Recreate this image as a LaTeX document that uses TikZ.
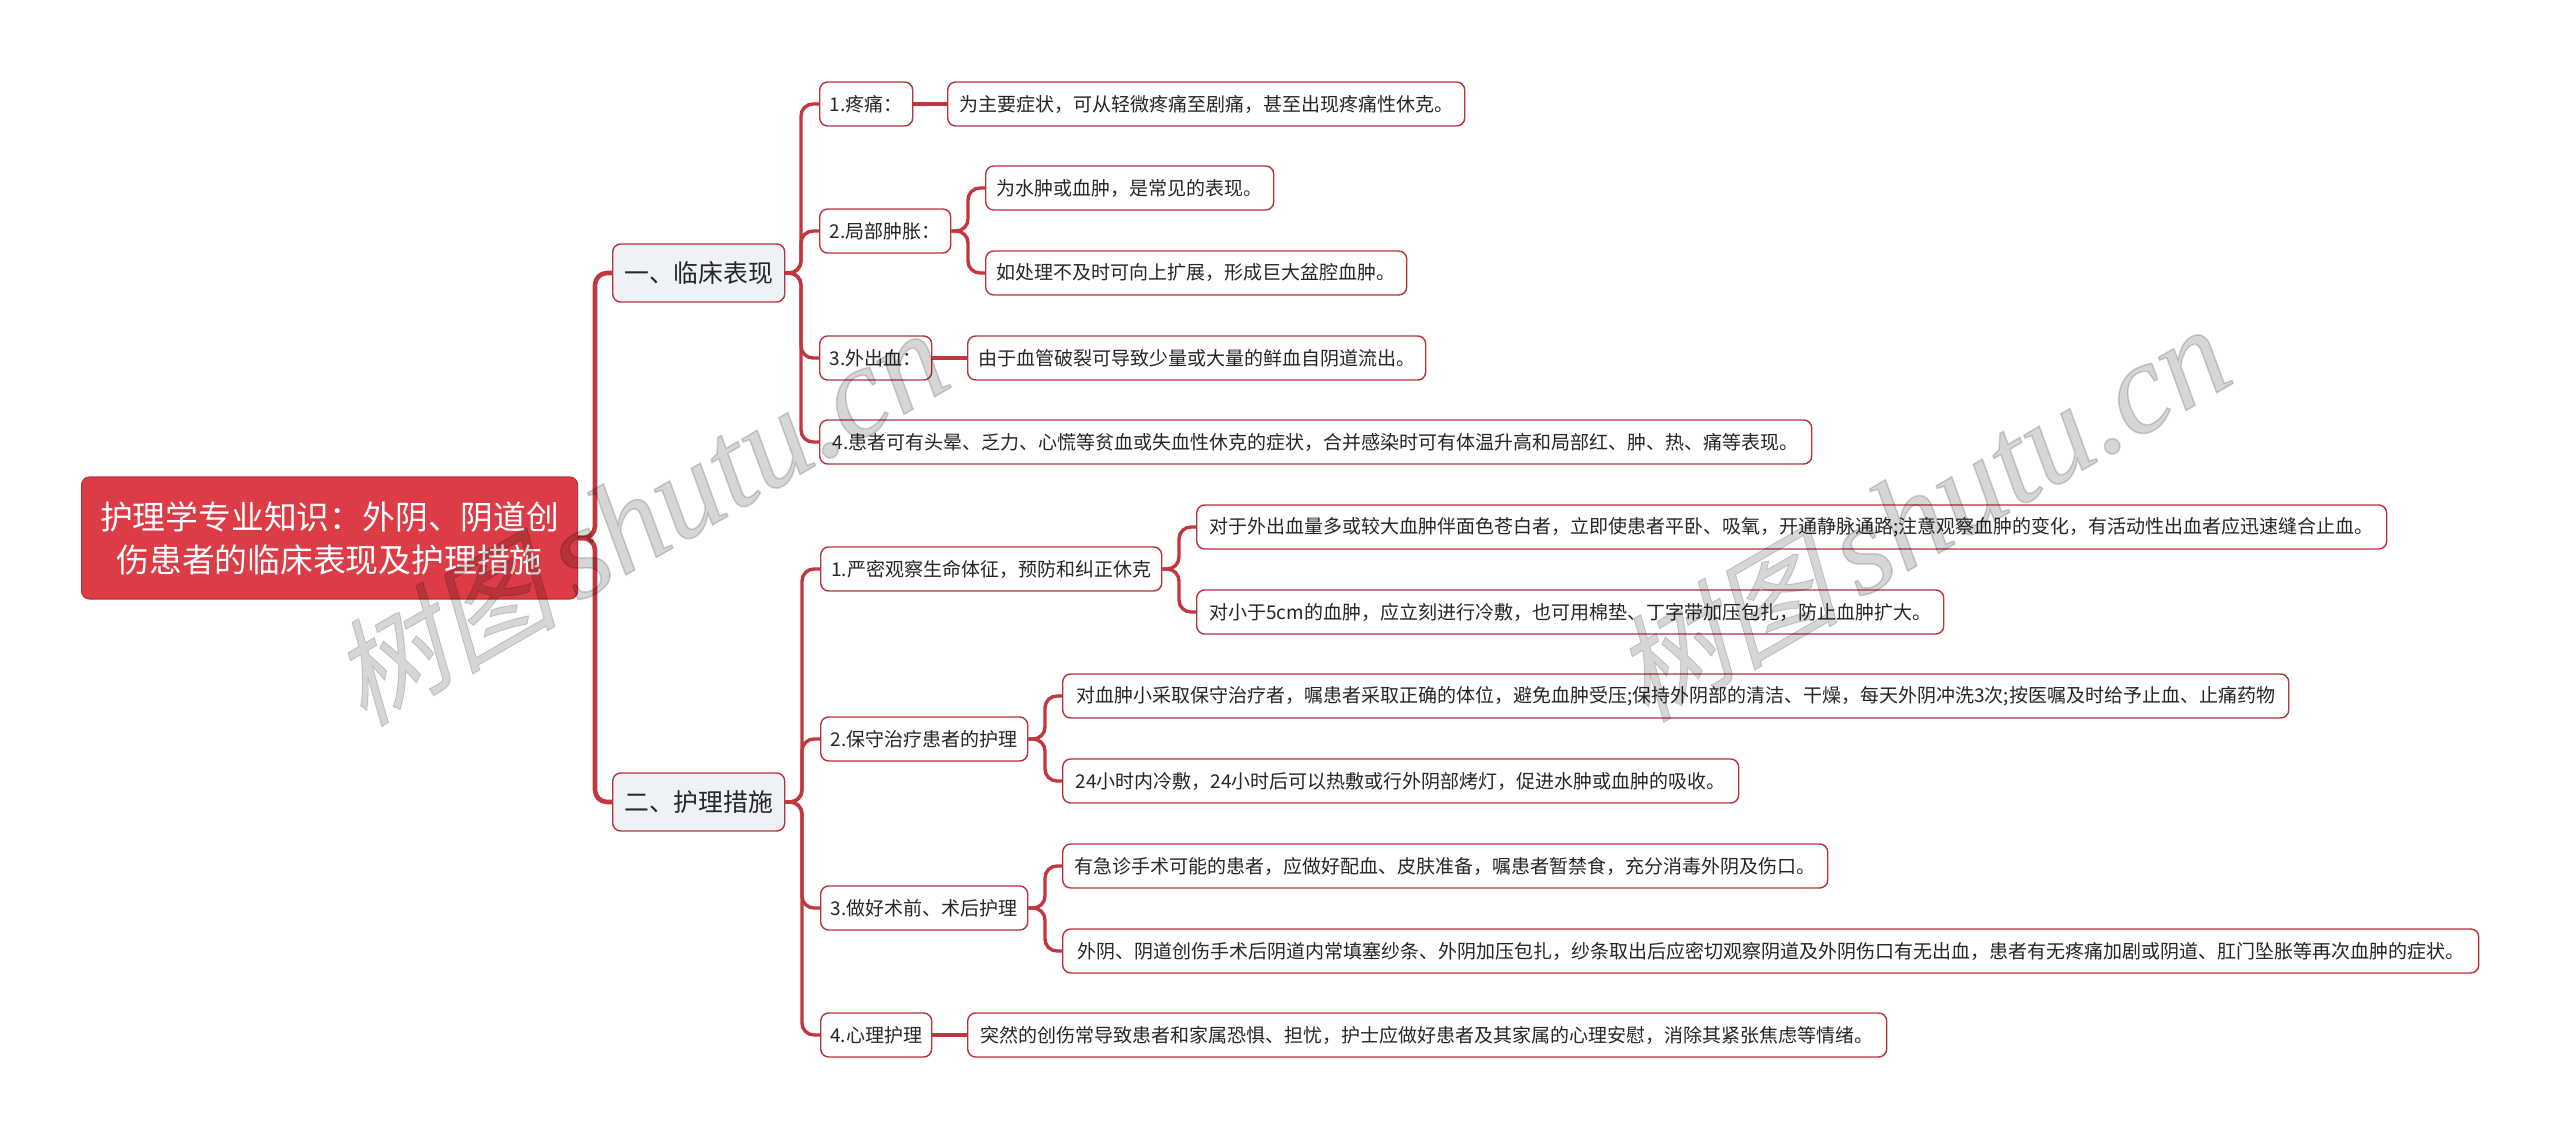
\documentclass[tikz,border=0pt]{standalone}
\usepackage{fontspec}
\setmainfont{Noto Sans CJK SC}
\newfontfamily\markcjk[FakeSlant=0.25,FakeBold=0.8]{Noto Sans CJK SC}
\newfontfamily\marklatin[ItalicFeatures={FakeBold=1.2}]{Liberation Serif}
\definecolor{rootred}{HTML}{DC3C46}
\definecolor{linered}{HTML}{B8323C}
\definecolor{linkred}{HTML}{C2363F}
\definecolor{sidegray}{HTML}{EEF1F5}
\definecolor{inktext}{HTML}{262626}
\usetikzlibrary{positioning}

\begin{document}
\begin{tikzpicture}[
        x=0.5pt, y=-0.5pt,
        root/.style={rectangle, rounded corners=4pt, fill=rootred, draw=linered, line width=0.6pt, text=white, font=\fontsize{16.4pt}{21.5pt}\selectfont, align=center, inner sep=0pt, anchor=west},
        topic/.style={rectangle, rounded corners=4pt, fill=sidegray, draw=linered, line width=0.7pt, text=inktext, font=\fontsize{12.4pt}{15pt}\selectfont, inner sep=0pt, anchor=west, minimum height=29pt},
        leaf/.style={rectangle, rounded corners=4pt, fill=white, draw=linered, line width=0.7pt, text=inktext, font=\fontsize{9.5pt}{12pt}\selectfont, inner sep=0pt, anchor=west, minimum height=22pt},
        trunk/.style={draw=linkred, line width=2.3pt, rounded corners=6pt},
        link/.style={draw=linkred, line width=1.7pt, rounded corners=6pt},
        wmark/.style={text=black, text opacity=0.16, rotate=30, inner sep=0pt}
    ]
        \useasboundingbox (0,0) rectangle (2560,1139);

        \node[root, minimum width=248pt, minimum height=61pt] (root) at (81,538) {护理学专业知识：外阴、阴道创\\伤患者的临床表现及护理措施};
        \node[topic, minimum width=86pt] (lin) at (612,273) {一、临床表现};
        \node[topic, minimum width=86pt] (hu) at (612,802) {二、护理措施};

        % first branch
        \node[leaf, minimum width=46.5pt] (lin1) at (819,104) {1.疼痛：};
        \node[leaf, minimum width=258.5pt] (lin1a) at (947,104) {为主要症状，可从轻微疼痛至剧痛，甚至出现疼痛性休克。};
        \node[leaf, minimum width=65.5pt] (lin2) at (819,231) {2.局部肿胀：};
        \node[leaf, minimum width=144pt] (lin2a) at (985,188) {为水肿或血肿，是常见的表现。};
        \node[leaf, minimum width=210.5pt] (lin2b) at (985,273) {如处理不及时可向上扩展，形成巨大盆腔血肿。};
        \node[leaf, minimum width=56pt] (lin3) at (819,358) {3.外出血：};
        \node[leaf, minimum width=229pt] (lin3a) at (967,358) {由于血管破裂可导致少量或大量的鲜血自阴道流出。};
        \node[leaf, minimum width=496pt] (lin4) at (819,442) {4.患者可有头晕、乏力、心慌等贫血或失血性休克的症状，合并感染时可有体温升高和局部红、肿、热、痛等表现。};

        % second branch
        \node[leaf, minimum width=170.5pt] (hu1) at (820,569) {1.严密观察生命体征，预防和纠正休克};
        \node[leaf, minimum width=595pt] (hu1a) at (1196,527) {对于外出血量多或较大血肿伴面色苍白者，立即使患者平卧、吸氧，开通静脉通路;注意观察血肿的变化，有活动性出血者应迅速缝合止血。};
        \node[leaf, minimum width=373.5pt] (hu1b) at (1196,612) {对小于5cm的血肿，应立刻进行冷敷，也可用棉垫、丁字带加压包扎，防止血肿扩大。};
        \node[leaf, minimum width=103.5pt] (hu2) at (820,739) {2.保守治疗患者的护理};
        \node[leaf, minimum width=613pt] (hu2a) at (1062,696) {对血肿小采取保守治疗者，嘱患者采取正确的体位，避免血肿受压;保持外阴部的清洁、干燥，每天外阴冲洗3次;按医嘱及时给予止血、止痛药物};
        \node[leaf, minimum width=338pt] (hu2b) at (1062,781) {24小时内冷敷，24小时后可以热敷或行外阴部烤灯，促进水肿或血肿的吸收。};
        \node[leaf, minimum width=103.5pt] (hu3) at (820,908) {3.做好术前、术后护理};
        \node[leaf, minimum width=382.5pt] (hu3a) at (1062,866) {有急诊手术可能的患者，应做好配血、皮肤准备，嘱患者暂禁食，充分消毒外阴及伤口。};
        \node[leaf, minimum width=708pt] (hu3b) at (1062,951) {外阴、阴道创伤手术后阴道内常填塞纱条、外阴加压包扎，纱条取出后应密切观察阴道及外阴伤口有无出血，患者有无疼痛加剧或阴道、肛门坠胀等再次血肿的症状。};
        \node[leaf, minimum width=55.5pt] (hu4) at (820,1035) {4.心理护理};
        \node[leaf, minimum width=459.5pt] (hu4a) at (967,1035) {突然的创伤常导致患者和家属恐惧、担忧，护士应做好患者及其家属的心理安慰，消除其紧张焦虑等情绪。};

        % junctions
        \coordinate (jroot) at (595,538);
        \coordinate (jlin) at (801,273);
        \coordinate (jhu) at (802,802);
        \coordinate (jlin2) at (968,231);
        \coordinate (jhu1) at (1179,569);
        \coordinate (jhu2) at (1045,739);
        \coordinate (jhu3) at (1045,908);

        \draw[trunk] (root.east) -- (jroot) |- (lin.west);
        \draw[trunk] (root.east) -- (jroot) |- (hu.west);
        \foreach \kid in {lin1, lin2, lin3, lin4}
            \draw[link] (lin.east) -- (jlin) |- (\kid.west);
        \foreach \kid in {hu1, hu2, hu3, hu4}
            \draw[link] (hu.east) -- (jhu) |- (\kid.west);
        \foreach \kid in {lin2a, lin2b}
            \draw[link] (lin2.east) -- (jlin2) |- (\kid.west);
        \foreach \kid in {hu1a, hu1b}
            \draw[link] (hu1.east) -- (jhu1) |- (\kid.west);
        \foreach \kid in {hu2a, hu2b}
            \draw[link] (hu2.east) -- (jhu2) |- (\kid.west);
        \foreach \kid in {hu3a, hu3b}
            \draw[link] (hu3.east) -- (jhu3) |- (\kid.west);
        \draw[link] (lin1.east) -- (lin1a.west);
        \draw[link] (lin3.east) -- (lin3a.west);
        \draw[link] (hu4.east) -- (hu4a.west);

        % watermarks on top
        \node[wmark] (markl) at (638,518) {{\fontsize{57pt}{60pt}\markcjk 树图}\hspace{10pt}{\fontsize{65pt}{60pt}\marklatin\itshape shutu.cn}};
        \node[wmark] (markr) at (1920,514) {{\fontsize{57pt}{60pt}\markcjk 树图}\hspace{10pt}{\fontsize{65pt}{60pt}\marklatin\itshape shutu.cn}};
    \end{tikzpicture}
\end{document}
